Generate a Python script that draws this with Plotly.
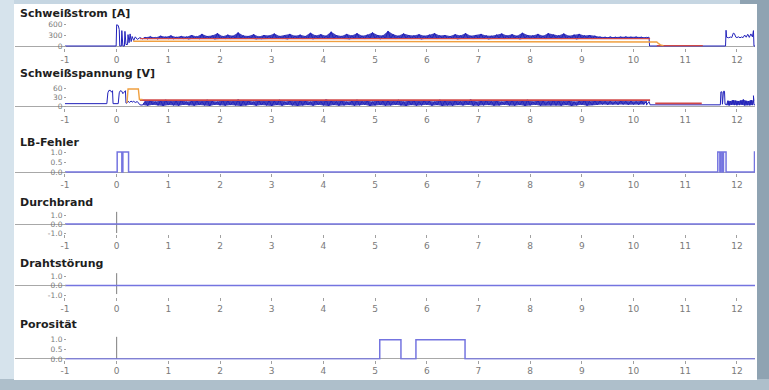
import plotly.graph_objects as go

W, H = 769, 390

# ---------------- data ----------------
x_tickvals = list(range(-1, 13))
x_ticktext = ["-1", "0", "1", "2", "3", "4", "5", "6", "7", "8", "9", "10", "11", "12"]
x_range = [-1.967, 12.35]

titles = ["Schweißstrom [A]", "Schweißspannung [V]", "LB-Fehler", "Durchbrand", "Drahtstörung", "Porosität"]

# Schweißstrom (current) - ignition phase
strom_start_t = [-1, -0.01, 0.0, 0.03, 0.05, 0.06, 0.09, 0.1, 0.12, 0.15, 0.16, 0.18, 0.21, 0.22, 0.24,
                 0.26, 0.28, 0.3, 0.33, 0.36, 0.4, 0.45]
strom_start_v = [0, 0, 580, 560, 450, 0, 0, 420, 0, 0, 400, 40, 40, 310, 90, 330, 120, 260, 150, 250, 180, 230]

# band samples every 0.1 s from 0.5 to 10.2 (low / high readings)
band_t0 = 0.5
band_n = 98
strom_lo = [195, 190, 205, 185, 200, 195, 190, 205, 195, 185,
            200, 190, 195, 205, 185, 195, 200, 190, 205, 195,
            190, 200, 185, 195, 205, 190, 195, 200, 185, 195,
            205, 190, 195, 185, 200, 195, 205, 190, 195, 200,
            185, 195, 200, 190, 205, 195, 185, 200, 195, 190,
            195, 205, 190, 195, 185, 200, 195, 190, 205, 195,
            200, 185, 195, 205, 190, 195, 200, 185, 195, 205,
            190, 195, 205, 185, 200, 190, 195, 205, 190, 195,
            200, 190, 195, 205, 185, 195, 200, 190,
            210, 215, 210, 215, 212, 210, 215, 210, 212, 210]
strom_hi = [240, 260, 235, 280, 250, 290, 245, 270, 255, 300,
            260, 330, 270, 290, 350, 265, 310, 280, 370, 290,
            275, 320, 260, 300, 285, 340, 270, 290, 330, 280,
            310, 270, 360, 290, 320, 280, 390, 300, 270, 330,
            290, 350, 280, 310, 370, 300, 290, 410, 320, 280,
            340, 300, 290, 320, 280, 310, 350, 290, 300, 270,
            320, 290, 350, 280, 300, 330, 290, 280, 310, 340,
            290, 320, 280, 360, 300, 290, 330, 280, 350, 310,
            290, 340, 280, 310, 330, 290, 300, 280,
            250, 245, 255, 245, 250, 255, 245, 250, 245, 240]

strom_end_t = [10.25, 10.3, 10.31, 11.78, 11.79, 11.8, 11.84, 11.88, 11.9, 11.93, 11.95, 11.98, 12.0, 12.03,
               12.06, 12.09, 12.12, 12.15, 12.18, 12.21, 12.24, 12.27, 12.3, 12.32, 12.33, 12.35]
strom_end_v = [225, 240, 0, 0, 430, 240, 225, 245, 230, 350, 340, 240, 230, 250,
               225, 245, 230, 300, 240, 320, 235, 330, 250, 420, 0, 0]

strom_rot_t = [0.45, 10.32, None, 10.45, 11.34]
strom_rot_v = [200, 200, None, 10, 10]
strom_orange_t = [0.32, 10.42, 10.45, 10.48, 10.52, 10.58]
strom_orange_v = [130, 130, 110, 70, 30, 12]

# Schweißspannung (voltage)
spann_start_t = [-1, -0.19, -0.17, -0.15, -0.12, -0.1, -0.08, -0.07, 0.03, 0.05, 0.07, 0.1, 0.12, 0.15,
                 0.17, 0.18, 0.2, 0.22, 0.25, 0.28, 0.3, 0.33, 0.36, 0.4, 0.45]
spann_start_v = [8, 8, 45, 53, 53, 47, 52, 8, 8, 45, 52, 50, 42, 50, 52, 10, 10, 16, 12, 17, 13, 16, 12, 15, 4]

spann_lo = [3, 1, 4, 2, 0, 3, 2, 1, 4, 2,
            1, 3, 2, 0, 4, 2, 1, 3, 2, 0,
            2, 4, 1, 3, 2, 0, 3, 1, 4, 2,
            0, 2, 3, 1, 4, 2, 0, 3, 1, 2,
            3, 1, 2, 4, 0, 2, 3, 1, 2, 4,
            2, 0, 3, 1, 2, 4, 1, 3, 0, 2,
            1, 3, 2, 4, 1, 0, 2, 3, 1, 2,
            4, 2, 1, 3, 0, 2, 4, 1, 3, 2,
            2, 1, 3, 0, 2, 4, 1, 3,
            4, 5, 4, 5, 4, 5, 4, 5, 4, 5]
spann_hi = [16, 19, 15, 18, 21, 16, 17, 20, 15, 18,
            19, 16, 21, 17, 15, 20, 18, 16, 22, 17,
            18, 15, 20, 16, 19, 17, 21, 15, 18, 16,
            20, 17, 15, 19, 16, 22, 18, 16, 19, 15,
            17, 21, 16, 18, 15, 20, 17, 19, 16, 21,
            15, 18, 20, 16, 19, 17, 15, 21, 18, 16,
            19, 16, 18, 22, 15, 17, 20, 16, 18, 15,
            17, 20, 16, 18, 21, 15, 19, 17, 16, 20,
            18, 16, 19, 15, 17, 20, 16, 18,
            17, 16, 17, 16, 17, 16, 17, 16, 17, 16]

spann_mid_t = [10.25, 10.3, 10.32, 11.68, 11.69, 11.71, 11.72, 11.74, 11.76, 11.77, 11.79]
spann_mid_v = [3, 15, 4, 4, 48, 48, 6, 50, 50, 6, 6]

blk_t0 = 11.8
blk_n = 11
spann_blk_lo = [3, 2, 4, 3, 2, 3, 4, 2, 3, 2, 3]
spann_blk_hi = [18, 17, 20, 18, 17, 19, 22, 18, 17, 20, 19]
spann_end_t = [12.32, 12.33, 12.35]
spann_end_v = [35, 4, 4]

spann_rot_t = [0.45, 10.32, None, 10.42, 11.32]
spann_rot_v = [20, 20, None, 9, 9]
spann_orange_t = [0.2, 0.22, 0.42, 0.44, 0.5]
spann_orange_v = [10, 58, 58, 22, 22]

# LB-Fehler
lb_t = [-1, 0.01, 0.1, 0.12, 0.23, 11.63, 11.67, 11.69, 11.72, 11.74, 11.79, 12.34, 12.35]
lb_v = [0, 1, 0, 1, 0, 1, 0, 1, 0, 1, 0, 1, 1]
# Durchbrand / Drahtstörung
durch_t = [-1, 12.35]
durch_v = [0, 0]
draht_t = [-1, 12.35]
draht_v = [0, 0]
# Porosität
poro_t = [-1, 5.09, 5.5, 5.79, 6.74, 12.35]
poro_v = [0, 1, 0, 1, 0, 0]

# trigger marker at t = 0 (y extent per panel)
marker_t = [0, 0]
marker_durch = [1.35, -1.0]
marker_draht = [1.3, -0.9]
marker_poro = [1.15, 0.0]

# ---------------- layout ----------------
panels = [
    dict(px=(20, 48), rng=[-54.6, 709.8], tv=[0, 300, 600], tt=["0", "300", "600"]),
    dict(px=(84, 108), rng=[-6.8, 74.8], tv=[0, 30, 60], tt=["0", "30", "60"]),
    dict(px=(148, 173), rng=[-0.05, 1.2], tv=[0, 0.5, 1], tt=["0.0", "0.5", "1.0"]),
    dict(px=(209, 234), rng=[-1.111, 1.667], tv=[-1, 0, 1], tt=["-1.0", "0.0", "1.0"]),
    dict(px=(269, 297), rng=[-1.21, 1.74], tv=[-1, 0, 1], tt=["-1.0", "0.0", "1.0"]),
    dict(px=(333, 359.5), rng=[-0.03, 1.35], tv=[0, 0.5, 1], tt=["0.0", "0.5", "1.0"]),
]
title_px = [14, 73, 142, 202, 263, 324]

BLUE = "#2222bb"
BANDFILL = "rgba(34,34,175,0.85)"
LAV = "#7474e0"
RED = "#d04848"
ORANGE = "#f0a040"
GRAY = "#7d7d7d"
TICKC = "#7a7a7a"
FONT = "DejaVu Sans"

fig = go.Figure()


def band(t0, n, step, lo, hi):
    xs, ys = [], []
    for i in range(n):
        t = t0 + step * i
        xs += [round(t, 4), round(t + step / 2, 4)]
        ys += [lo[i], hi[i]]
    return xs, ys


def envelope(t0, n, step, lo, hi):
    xu = [round(t0 + step * i + step / 2, 4) for i in range(n)]
    xl = [round(t0 + step * i, 4) for i in range(n)]
    return xu + xl[::-1], list(hi) + list(lo)[::-1]


def add(x, y, k, color, width=1.0, shape="linear", fill=None, fillcolor=None):
    sfx = "" if k == 1 else str(k)
    fig.add_trace(go.Scatter(x=x, y=y, mode="lines", xaxis="x" + sfx, yaxis="y" + sfx,
                             line=dict(color=color, width=width, shape=shape),
                             fill=fill, fillcolor=fillcolor,
                             hoverinfo="skip", showlegend=False, connectgaps=False))


# panel 1
ex, ey = envelope(band_t0, band_n, 0.1, strom_lo, strom_hi)
add(ex, ey, 1, "rgba(0,0,0,0)", 0, fill="toself", fillcolor=BANDFILL)
bx, by = band(band_t0, band_n, 0.1, strom_lo, strom_hi)
add(strom_start_t + bx + strom_end_t, strom_start_v + by + strom_end_v, 1, BLUE, 1.0)
add(strom_rot_t, strom_rot_v, 1, RED, 1.2)
add(strom_orange_t, strom_orange_v, 1, ORANGE, 1.4)

# panel 2
ex2, ey2 = envelope(band_t0, band_n, 0.1, spann_lo, spann_hi)
add(ex2, ey2, 2, "rgba(0,0,0,0)", 0, fill="toself", fillcolor=BANDFILL)
kex, key = envelope(blk_t0, blk_n, 0.05, spann_blk_lo, spann_blk_hi)
add(kex, key, 2, "rgba(0,0,0,0)", 0, fill="toself", fillcolor=BANDFILL)
bx2, by2 = band(band_t0, band_n, 0.1, spann_lo, spann_hi)
kx, ky = band(blk_t0, blk_n, 0.05, spann_blk_lo, spann_blk_hi)
add(spann_start_t + bx2 + spann_mid_t + kx + spann_end_t,
    spann_start_v + by2 + spann_mid_v + ky + spann_end_v, 2, BLUE, 1.0)
add(spann_rot_t, spann_rot_v, 2, RED, 1.6)
add(spann_orange_t, spann_orange_v, 2, ORANGE, 1.4)

# panels 3..6
add(lb_t, lb_v, 3, LAV, 1.5, "hv")
add(marker_t, marker_durch, 4, GRAY, 1.0)
add(durch_t, durch_v, 4, LAV, 1.5)
add(marker_t, marker_draht, 5, GRAY, 1.0)
add(draht_t, draht_v, 5, LAV, 1.5)
add(marker_t, marker_poro, 6, GRAY, 1.0)
add(poro_t, poro_v, 6, LAV, 1.5, "hv")

layout = dict(
    width=W, height=H,
    margin=dict(l=0, r=0, t=0, b=0, autoexpand=False),
    paper_bgcolor="#c6d6e2",
    plot_bgcolor="rgba(0,0,0,0)",
    showlegend=False,
    font=dict(family=FONT, size=9, color=TICKC),
)

xd = [15 / W, 755 / W]
for i, p in enumerate(panels):
    k = i + 1
    sfx = "" if k == 1 else str(k)
    top, bot = p["px"]
    layout["xaxis" + sfx] = dict(
        domain=xd, range=x_range, anchor="y" + sfx,
        tickvals=x_tickvals, ticktext=x_ticktext,
        ticks="outside", ticklen=3, tickcolor="#a0a0a0", tickwidth=1,
        showline=False, showgrid=False, zeroline=False,
        tickfont=dict(family=FONT, size=9, color=TICKC), fixedrange=True,
    )
    layout["yaxis" + sfx] = dict(
        domain=[1 - bot / H, 1 - top / H], range=p["rng"],
        anchor="free", position=66 / W,
        tickvals=p["tv"], ticktext=p["tt"],
        ticks="outside", ticklen=2, tickcolor="#a0a0a0", tickwidth=1,
        showline=False, showgrid=False,
        zeroline=True, zerolinecolor="#a8a8a8", zerolinewidth=1,
        tickfont=dict(family=FONT, size=7.5, color=TICKC), fixedrange=True,
    )

layout["shapes"] = [
    dict(type="rect", xref="paper", yref="paper", x0=740 / W, x1=1, y0=0, y1=1,
         fillcolor="#8fa3b2", line=dict(width=0), layer="below"),
    dict(type="rect", xref="paper", yref="paper", x0=0, x1=1, y0=0, y1=1 - 379 / H,
         fillcolor="#aebfcb", line=dict(width=0), layer="below"),
    dict(type="rect", xref="paper", yref="paper", x0=0, x1=14 / W, y0=1 - 379 / H, y1=1,
         fillcolor="#d6e3ec", line=dict(width=0), layer="below"),
    dict(type="rect", xref="paper", yref="paper", x0=14 / W, x1=757 / W, y0=1 - 380 / H, y1=1 - 4 / H,
         fillcolor="#ffffff", line=dict(width=0), layer="below"),
]

layout["annotations"] = [
    dict(text="<b>" + t + "</b>", xref="paper", yref="paper",
         x=18 / W, y=1 - ypx / H, xanchor="left", yanchor="middle",
         showarrow=False, font=dict(family=FONT, size=11, color="#1e1e1e"))
    for t, ypx in zip(titles, title_px)
]

fig.update_layout(**layout)
fig.write_html("out.html", config={"displayModeBar": False, "staticPlot": True},
               post_script="document.body.style.margin='0px';document.body.style.overflow='hidden';")
